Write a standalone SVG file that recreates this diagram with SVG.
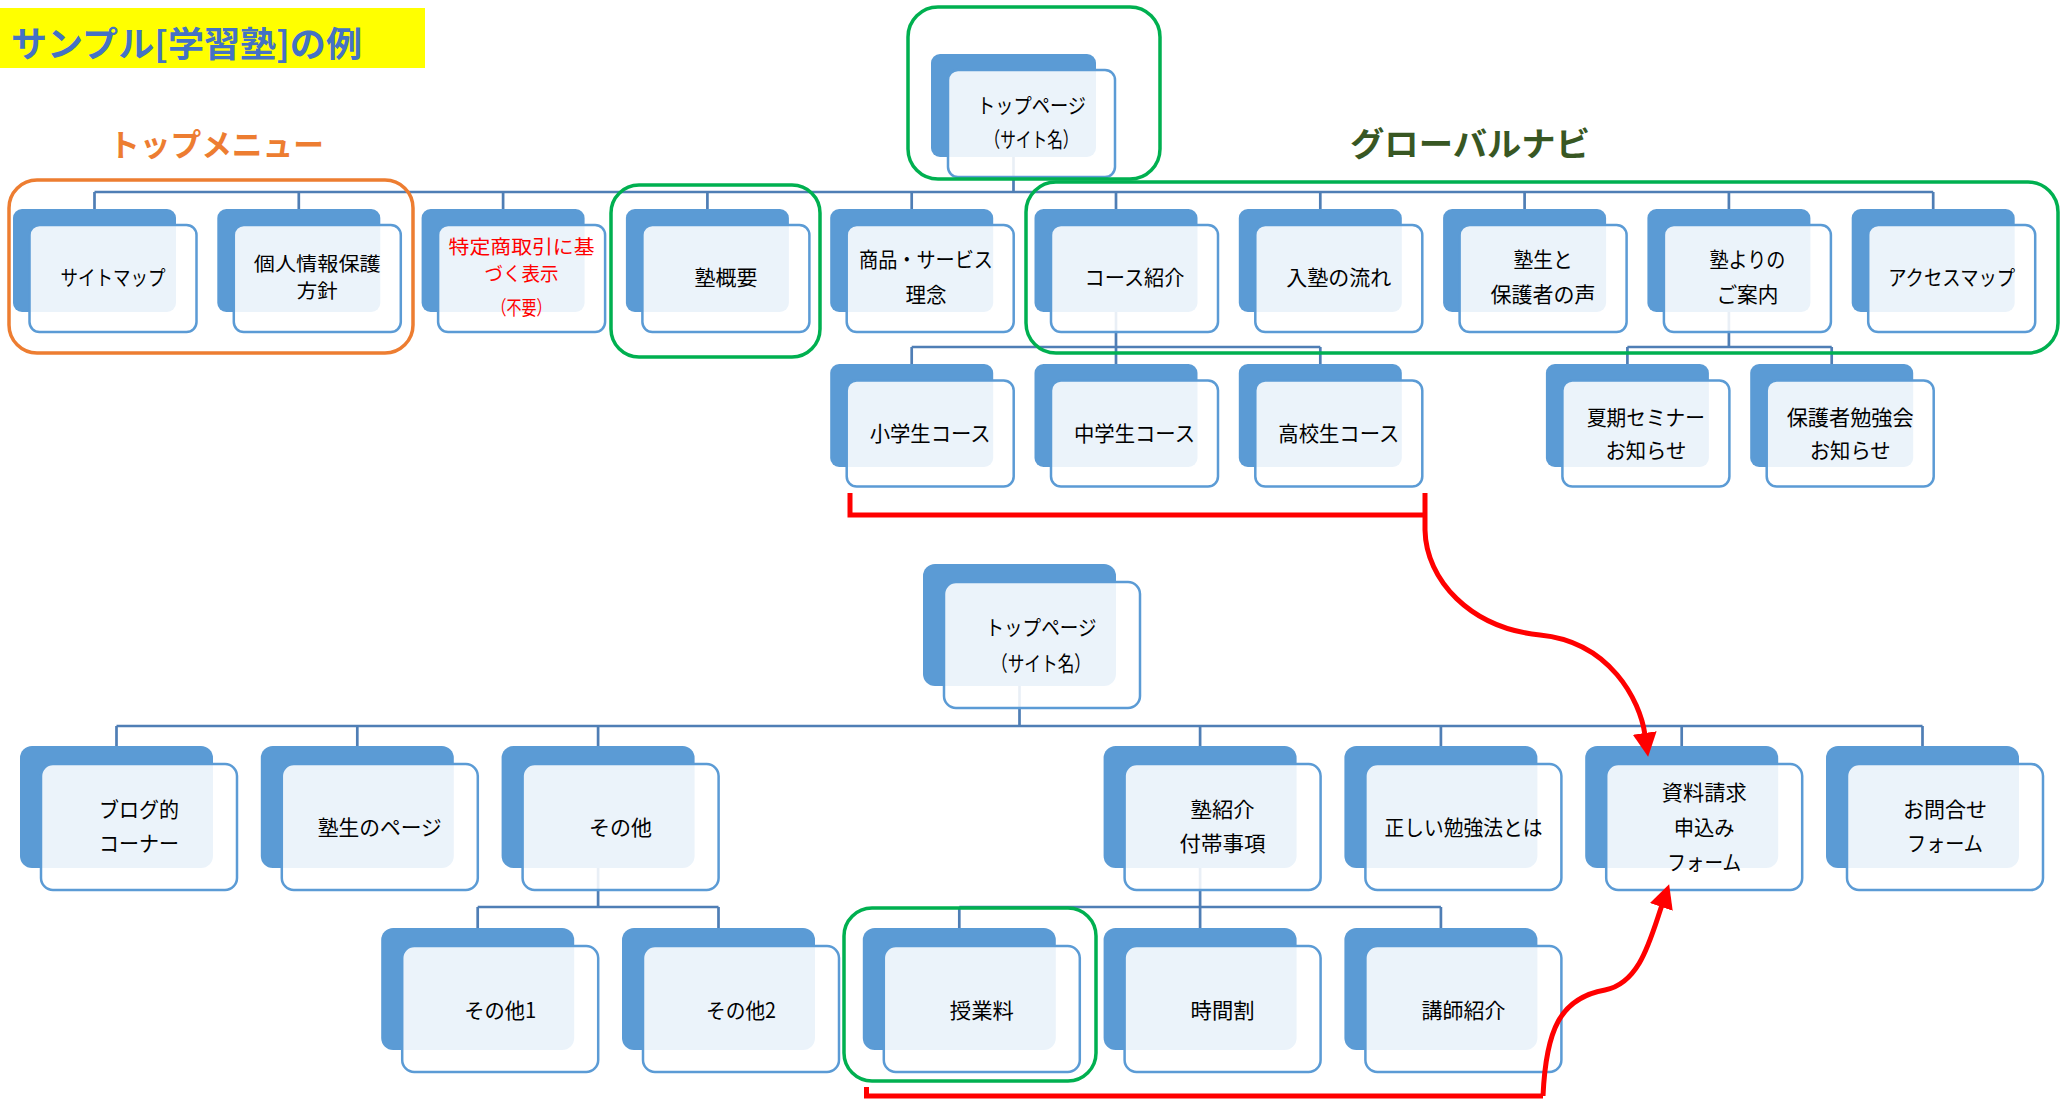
<svg xmlns="http://www.w3.org/2000/svg" width="2065" height="1101" viewBox="0 0 2065 1101">
<style>
.back{fill:#5B9BD5}
.front{fill:#FFFFFF;fill-opacity:0.88;stroke:#5B9BD5;stroke-width:2.5}
.t{font-family:"Noto Sans CJK JP","Noto Sans CJK SC",sans-serif;font-size:21px;text-anchor:middle;fill:#000}
.s{font-size:19.5px}
.red{fill:#FF0000}
.conn{stroke:#4F7EB5;stroke-width:2.7;fill:none}
.hl{fill:none;stroke-width:3.5}
.g{stroke:#00B050}
.o{stroke:#ED7D31}
.arr{fill:none;stroke:#FF0000;stroke-width:5}
.title{font-family:"Noto Sans CJK JP","Noto Sans CJK SC",sans-serif;font-weight:bold}
</style>
<defs>
<marker id="ah" markerUnits="userSpaceOnUse" markerWidth="26" markerHeight="24" refX="2" refY="12" orient="auto">
<path d="M0,0 L24,12 L0,24 z" fill="#FF0000"/>
</marker>
</defs>
<rect width="2065" height="1101" fill="#FFFFFF"/>

<g id="labels">
<rect x="0" y="8" width="425" height="60" fill="#FFFF00"/>
<text class="title" x="11" y="57" font-size="35" fill="#4472C4" textLength="351" lengthAdjust="spacingAndGlyphs">サンプル[学習塾]の例</text>
<text class="title" x="109" y="156" font-size="31" fill="#ED7D31" textLength="215" lengthAdjust="spacingAndGlyphs">トップメニュー</text>
<text class="title" x="1350" y="156" font-size="33" fill="#385723" textLength="240" lengthAdjust="spacingAndGlyphs">グローバルナビ</text>
</g>

<g id="connectors">
<path class="conn" d="M1013.5,157 V192 M94.5,192 H1933.2 M94.5,192 V209 M298.8,192 V209 M503.1,192 V209 M707.4,192 V209 M911.7,192 V209 M1116,192 V209 M1320.3,192 V209 M1524.6,192 V209 M1728.9,192 V209 M1933.2,192 V209"/>
<path class="conn" d="M1116,312 V347 M911.7,347 H1320.3 M911.7,347 V364 M1116,347 V364 M1320.3,347 V364"/>
<path class="conn" d="M1728.9,312 V347 M1627.4,347 H1831.7 M1627.4,347 V364 M1831.7,347 V364"/>
<path class="conn" d="M1019.5,686 V726 M116.5,726 H1922.5 M116.5,726 V746 M357.3,726 V746 M598.1,726 V746 M1200.1,726 V746 M1440.9,726 V746 M1681.7,726 V746 M1922.5,726 V746"/>
<path class="conn" d="M598.1,868 V907 M477.7,907 H718.5 M477.7,907 V928 M718.5,907 V928"/>
<path class="conn" d="M1200.1,868 V907 M959.3,907 H1440.9 M959.3,907 V928 M1200.1,907 V928 M1440.9,907 V928"/>
</g>

<g id="root">
<rect class="back" x="931" y="54" width="165" height="103" rx="9"/>
<rect class="front" x="948" y="70" width="167" height="107" rx="10"/>
<text class="t" x="1031.5" y="112.5" textLength="109" lengthAdjust="spacingAndGlyphs">トップページ</text>
<text class="t" x="1031.5" y="146.5" textLength="94" lengthAdjust="spacingAndGlyphs">（サイト名）</text>
</g>

<g id="n-sitemap">
<rect class="back" x="13" y="209" width="163" height="103" rx="9"/>
<rect class="front" x="29.5" y="225" width="167" height="107" rx="10"/>
<text class="t" x="113" y="284.5" textLength="105" lengthAdjust="spacingAndGlyphs">サイトマップ</text>
</g>
<g id="n-privacy">
<rect class="back" x="217.3" y="209" width="163" height="103" rx="9"/>
<rect class="front" x="233.8" y="225" width="167" height="107" rx="10"/>
<text class="t s" x="317.3" y="271" textLength="127" lengthAdjust="spacingAndGlyphs">個人情報保護</text>
<text class="t s" x="317.3" y="298" textLength="41" lengthAdjust="spacingAndGlyphs">方針</text>
</g>
<g id="n-tokutei">
<rect class="back" x="421.6" y="209" width="163" height="103" rx="9"/>
<rect class="front" x="438.1" y="225" width="167" height="107" rx="10"/>
<text class="t s red" x="521.6" y="254" textLength="146" lengthAdjust="spacingAndGlyphs">特定商取引に基</text>
<text class="t s red" x="521.6" y="281" textLength="74" lengthAdjust="spacingAndGlyphs">づく表示</text>
<text class="t s red" x="521.6" y="314.5" textLength="60" lengthAdjust="spacingAndGlyphs">（不要）</text>
</g>
<g id="n-gaiyou">
<rect class="back" x="625.9" y="209" width="163" height="103" rx="9"/>
<rect class="front" x="642.4" y="225" width="167" height="107" rx="10"/>
<text class="t" x="725.9" y="284.5" textLength="63" lengthAdjust="spacingAndGlyphs">塾概要</text>
</g>
<g id="n-shouhin">
<rect class="back" x="830.2" y="209" width="163" height="103" rx="9"/>
<rect class="front" x="846.7" y="225" width="167" height="107" rx="10"/>
<text class="t" x="926" y="266.5" textLength="134" lengthAdjust="spacingAndGlyphs">商品・サービス</text>
<text class="t" x="926" y="301.5" textLength="41" lengthAdjust="spacingAndGlyphs">理念</text>
</g>
<g id="n-course">
<rect class="back" x="1034.5" y="209" width="163" height="103" rx="9"/>
<rect class="front" x="1051" y="225" width="167" height="107" rx="10"/>
<text class="t" x="1134.5" y="284.5" textLength="100" lengthAdjust="spacingAndGlyphs">コース紹介</text>
</g>
<g id="n-nyujuku">
<rect class="back" x="1238.8" y="209" width="163" height="103" rx="9"/>
<rect class="front" x="1255.3" y="225" width="167" height="107" rx="10"/>
<text class="t" x="1338.8" y="284.5" textLength="105" lengthAdjust="spacingAndGlyphs">入塾の流れ</text>
</g>
<g id="n-voice">
<rect class="back" x="1443.1" y="209" width="163" height="103" rx="9"/>
<rect class="front" x="1459.6" y="225" width="167" height="107" rx="10"/>
<text class="t" x="1543.1" y="266.5" textLength="59" lengthAdjust="spacingAndGlyphs">塾生と</text>
<text class="t" x="1543.1" y="301.5" textLength="105" lengthAdjust="spacingAndGlyphs">保護者の声</text>
</g>
<g id="n-annai">
<rect class="back" x="1647.4" y="209" width="163" height="103" rx="9"/>
<rect class="front" x="1663.9" y="225" width="167" height="107" rx="10"/>
<text class="t" x="1747.4" y="266.5" textLength="76" lengthAdjust="spacingAndGlyphs">塾よりの</text>
<text class="t" x="1747.4" y="301.5" textLength="62" lengthAdjust="spacingAndGlyphs">ご案内</text>
</g>
<g id="n-access">
<rect class="back" x="1851.7" y="209" width="163" height="103" rx="9"/>
<rect class="front" x="1868.2" y="225" width="167" height="107" rx="10"/>
<text class="t" x="1951.7" y="284.5" textLength="127" lengthAdjust="spacingAndGlyphs">アクセスマップ</text>
</g>

<g id="n-shougaku">
<rect class="back" x="830.2" y="364" width="163" height="103" rx="9"/>
<rect class="front" x="846.7" y="380.5" width="167" height="106" rx="10"/>
<text class="t" x="930.2" y="440.5" textLength="121" lengthAdjust="spacingAndGlyphs">小学生コース</text>
</g>
<g id="n-chuugaku">
<rect class="back" x="1034.5" y="364" width="163" height="103" rx="9"/>
<rect class="front" x="1051" y="380.5" width="167" height="106" rx="10"/>
<text class="t" x="1134.5" y="440.5" textLength="121" lengthAdjust="spacingAndGlyphs">中学生コース</text>
</g>
<g id="n-koukou">
<rect class="back" x="1238.8" y="364" width="163" height="103" rx="9"/>
<rect class="front" x="1255.3" y="380.5" width="167" height="106" rx="10"/>
<text class="t" x="1338.8" y="440.5" textLength="121" lengthAdjust="spacingAndGlyphs">高校生コース</text>
</g>
<g id="n-seminar">
<rect class="back" x="1545.9" y="364" width="163" height="103" rx="9"/>
<rect class="front" x="1562.4" y="380.5" width="167" height="106" rx="10"/>
<text class="t" x="1645.9" y="424.5" textLength="118" lengthAdjust="spacingAndGlyphs">夏期セミナー</text>
<text class="t" x="1645.9" y="457.5" textLength="81" lengthAdjust="spacingAndGlyphs">お知らせ</text>
</g>
<g id="n-benkyoukai">
<rect class="back" x="1750.2" y="364" width="163" height="103" rx="9"/>
<rect class="front" x="1766.7" y="380.5" width="167" height="106" rx="10"/>
<text class="t" x="1850.2" y="424.5" textLength="127" lengthAdjust="spacingAndGlyphs">保護者勉強会</text>
<text class="t" x="1850.2" y="457.5" textLength="81" lengthAdjust="spacingAndGlyphs">お知らせ</text>
</g>

<g id="root2">
<rect class="back" x="923" y="564" width="193" height="122" rx="12"/>
<rect class="front" x="944" y="582" width="196" height="126" rx="12"/>
<text class="t" x="1041" y="634.5" textLength="111" lengthAdjust="spacingAndGlyphs">トップページ</text>
<text class="t" x="1041" y="670.5" textLength="100" lengthAdjust="spacingAndGlyphs">（サイト名）</text>
</g>

<g id="n-blog">
<rect class="back" x="20" y="746" width="193" height="122" rx="12"/>
<rect class="front" x="41" y="764" width="196" height="126" rx="12"/>
<text class="t" x="139" y="816.5" textLength="80" lengthAdjust="spacingAndGlyphs">ブログ的</text>
<text class="t" x="139" y="850.5" textLength="80" lengthAdjust="spacingAndGlyphs">コーナー</text>
</g>
<g id="n-jukusei">
<rect class="back" x="260.8" y="746" width="193" height="122" rx="12"/>
<rect class="front" x="281.8" y="764" width="196" height="126" rx="12"/>
<text class="t" x="379.8" y="834.5" textLength="124" lengthAdjust="spacingAndGlyphs">塾生のページ</text>
</g>
<g id="n-sonota">
<rect class="back" x="501.6" y="746" width="193" height="122" rx="12"/>
<rect class="front" x="522.6" y="764" width="196" height="126" rx="12"/>
<text class="t" x="620.6" y="834.5" textLength="63" lengthAdjust="spacingAndGlyphs">その他</text>
</g>
<g id="n-shoukai">
<rect class="back" x="1103.6" y="746" width="193" height="122" rx="12"/>
<rect class="front" x="1124.6" y="764" width="196" height="126" rx="12"/>
<text class="t" x="1222.6" y="816.5" textLength="64" lengthAdjust="spacingAndGlyphs">塾紹介</text>
<text class="t" x="1222.6" y="850.5" textLength="86" lengthAdjust="spacingAndGlyphs">付帯事項</text>
</g>
<g id="n-benkyouhou">
<rect class="back" x="1344.4" y="746" width="193" height="122" rx="12"/>
<rect class="front" x="1365.4" y="764" width="196" height="126" rx="12"/>
<text class="t" x="1463.4" y="834.5" textLength="158" lengthAdjust="spacingAndGlyphs">正しい勉強法とは</text>
</g>
<g id="n-shiryou">
<rect class="back" x="1585.2" y="746" width="193" height="122" rx="12"/>
<rect class="front" x="1606.2" y="764" width="196" height="126" rx="12"/>
<text class="t" x="1704.2" y="799.5" textLength="85" lengthAdjust="spacingAndGlyphs">資料請求</text>
<text class="t" x="1704.2" y="834.5" textLength="61" lengthAdjust="spacingAndGlyphs">申込み</text>
<text class="t" x="1704.2" y="869.5" textLength="74" lengthAdjust="spacingAndGlyphs">フォーム</text>
</g>
<g id="n-toiawase">
<rect class="back" x="1826" y="746" width="193" height="122" rx="12"/>
<rect class="front" x="1847" y="764" width="196" height="126" rx="12"/>
<text class="t" x="1945" y="816.5" textLength="84" lengthAdjust="spacingAndGlyphs">お問合せ</text>
<text class="t" x="1945" y="850.5" textLength="76" lengthAdjust="spacingAndGlyphs">フォーム</text>
</g>

<g id="n-sonota1">
<rect class="back" x="381.2" y="928" width="193" height="122" rx="12"/>
<rect class="front" x="402.2" y="946" width="196" height="126" rx="12"/>
<text class="t" x="500.2" y="1017.5" textLength="72" lengthAdjust="spacingAndGlyphs">その他1</text>
</g>
<g id="n-sonota2">
<rect class="back" x="622" y="928" width="193" height="122" rx="12"/>
<rect class="front" x="643" y="946" width="196" height="126" rx="12"/>
<text class="t" x="741" y="1017.5" textLength="70" lengthAdjust="spacingAndGlyphs">その他2</text>
</g>
<g id="n-jugyouryou">
<rect class="back" x="862.8" y="928" width="193" height="122" rx="12"/>
<rect class="front" x="883.8" y="946" width="196" height="126" rx="12"/>
<text class="t" x="981.8" y="1017.5" textLength="64" lengthAdjust="spacingAndGlyphs">授業料</text>
</g>
<g id="n-jikanwari">
<rect class="back" x="1103.6" y="928" width="193" height="122" rx="12"/>
<rect class="front" x="1124.6" y="946" width="196" height="126" rx="12"/>
<text class="t" x="1222.6" y="1017.5" textLength="64" lengthAdjust="spacingAndGlyphs">時間割</text>
</g>
<g id="n-koushi">
<rect class="back" x="1344.4" y="928" width="193" height="122" rx="12"/>
<rect class="front" x="1365.4" y="946" width="196" height="126" rx="12"/>
<text class="t" x="1463.4" y="1017.5" textLength="84" lengthAdjust="spacingAndGlyphs">講師紹介</text>
</g>

<g id="highlights">
<rect class="hl o" x="9" y="180" width="404" height="173" rx="28"/>
<rect class="hl g" x="908" y="7" width="252" height="172" rx="30"/>
<rect class="hl g" x="611" y="185" width="209" height="172" rx="28"/>
<rect class="hl g" x="1026" y="182" width="1032" height="171" rx="30"/>
<rect class="hl g" x="844" y="908" width="252" height="173" rx="28"/>
</g>

<g id="red-arrows">
<path class="arr" d="M850,493 V515 H1425"/>
<path class="arr" d="M1425,493 V530 C1426,580 1470,628 1540,635 C1610,642 1640,700 1645,735" marker-end="url(#ah)"/>
<path class="arr" d="M866.5,1087 V1096 H1543"/>
<path class="arr" d="M1543,1096 C1546,1030 1560,998 1605,990 C1640,983 1650,940 1662,905" marker-end="url(#ah)"/>
</g>
</svg>
